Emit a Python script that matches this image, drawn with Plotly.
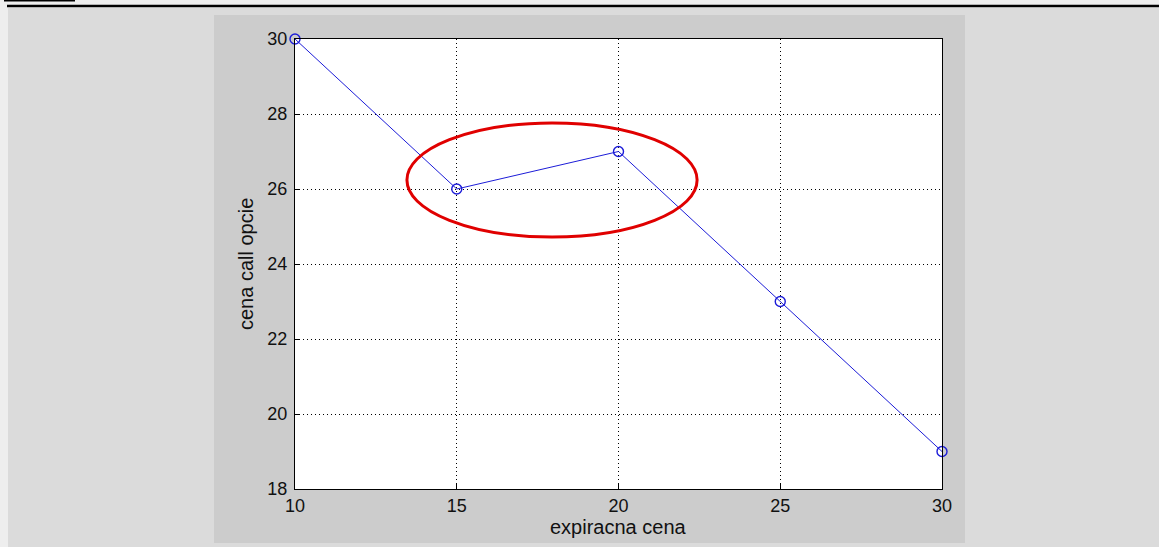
import plotly.graph_objects as go

# strike price vs. call option price
strike = [10, 15, 20, 25, 30]
call_price = [30, 26, 27, 23, 19]

x_ticks = [10, 15, 20, 25, 30]
y_ticks = [18, 20, 22, 24, 26, 28, 30]

W, H = 1159, 547


def px(x0, y0, x1, y1):
    """Pixel box (top-left origin) -> paper coordinates."""
    return dict(x0=x0 / W, x1=x1 / W, y0=1 - y1 / H, y1=1 - y0 / H)


FONT = "Liberation Sans, Arial, sans-serif"
INK = "#111111"
BLUE = "#1c1cd8"

fig = go.Figure()
fig.add_trace(go.Scatter(
    x=strike, y=call_price, mode="lines+markers",
    line=dict(color=BLUE, width=1),
    marker=dict(symbol="circle-open", size=10, color=BLUE,
                line=dict(width=1.4, color=BLUE)),
    showlegend=False, hoverinfo="x+y", cliponaxis=False,
))

shapes = [
    # outer page box
    dict(type="rect", xref="paper", yref="paper", layer="below",
         fillcolor="#dbdbdb", line=dict(width=0), **px(8, 8, W, H)),
    # figure window
    dict(type="rect", xref="paper", yref="paper", layer="below",
         fillcolor="#cccccc", line=dict(width=0), **px(214, 15, 965, 543)),
    # axes background
    dict(type="rect", xref="paper", yref="paper", layer="below",
         fillcolor="#ffffff", line=dict(width=0), **px(295, 39, 942, 489)),
    # header rule
    dict(type="line", xref="paper", yref="paper",
         line=dict(color="#000000", width=2.5), **px(7, 6, W, 6)),
    dict(type="line", xref="paper", yref="paper",
         line=dict(color="#000000", width=1.5), **px(4, 0.8, 75, 0.8)),
    # highlighted region
    dict(type="circle", xref="x", yref="y", layer="above",
         x0=13.46, x1=22.43, y0=24.72, y1=27.76,
         line=dict(color="#e00000", width=3)),
]

axis_common = dict(
    showline=True, linecolor="#000000", linewidth=1, mirror=True,
    ticks="inside", ticklen=5, tickcolor="#000000",
    showgrid=True, gridcolor="#000000", gridwidth=1, griddash="1px,3px",
    zeroline=False, automargin=False,
    tickfont=dict(family=FONT, size=18, color=INK),
)

annotations = [
    dict(text="expiracna cena", xref="paper", yref="paper",
         x=618.5 / W, y=1 - 527 / H, xanchor="center", yanchor="middle",
         showarrow=False, font=dict(family=FONT, size=20, color=INK)),
    dict(text="cena call opcie", xref="paper", yref="paper", textangle=-90,
         x=246 / W, y=1 - 264 / H, xanchor="center", yanchor="middle",
         showarrow=False, font=dict(family=FONT, size=20, color=INK)),
]

fig.update_layout(
    width=W, height=H,
    margin=dict(l=0, r=0, t=0, b=0, pad=0),
    paper_bgcolor="#eeeeee", plot_bgcolor="#ffffff",
    shapes=shapes, annotations=annotations,
    xaxis=dict(
        domain=[295 / W, 942 / W], range=[10, 30],
        tickvals=x_ticks, ticktext=[str(v) for v in x_ticks],
        ticklabelstandoff=0,
        **axis_common,
    ),
    yaxis=dict(
        domain=[1 - 489 / H, 1 - 39 / H], range=[18, 30],
        tickvals=y_ticks, ticktext=[str(v) for v in y_ticks],
        ticklabelstandoff=3,
        **axis_common,
    ),
)

fig.write_html("out.html")
